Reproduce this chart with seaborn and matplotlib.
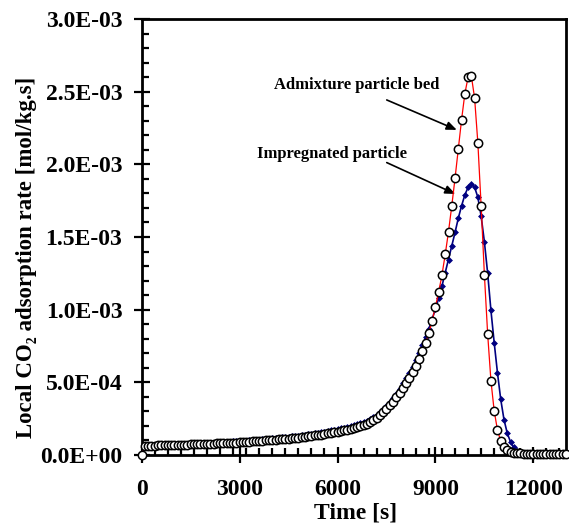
import numpy as np
import matplotlib
matplotlib.use("Agg")
import matplotlib.pyplot as plt
import seaborn as sns
from matplotlib.ticker import MultipleLocator, FuncFormatter

# Sampling times [s]
time_s = [
    0, 100, 200, 300, 400, 500, 600, 700, 800, 900,
    1000, 1100, 1200, 1300, 1400, 1500, 1600, 1700, 1800, 1900,
    2000, 2100, 2200, 2300, 2400, 2500, 2600, 2700, 2800, 2900,
    3000, 3100, 3200, 3300, 3400, 3500, 3600, 3700, 3800, 3900,
    4000, 4100, 4200, 4300, 4400, 4500, 4600, 4700, 4800, 4900,
    5000, 5100, 5200, 5300, 5400, 5500, 5600, 5700, 5800, 5900,
    6000, 6100, 6200, 6300, 6400, 6500, 6600, 6700, 6800, 6900,
    7000, 7100, 7200, 7300, 7400, 7500, 7600, 7700, 7800, 7900,
    8000, 8100, 8200, 8300, 8400, 8500, 8600, 8700, 8800, 8900,
    9000, 9100, 9200, 9300, 9400, 9500, 9600, 9700, 9800, 9900,
    10000, 10100, 10200, 10300, 10400, 10500, 10600, 10700, 10800, 10900,
    11000, 11100, 11200, 11300, 11400, 11500, 11600, 11700, 11800, 11900,
    12000, 12100, 12200, 12300, 12400, 12500, 12600, 12700, 12800, 12900,
    13000,
]

# Local CO2 adsorption rate, in 1e-3 mol/kg.s
admixture_e3 = [
    0.000, 0.064, 0.064, 0.065, 0.065, 0.066, 0.066, 0.067, 0.067, 0.068,
    0.069, 0.070, 0.071, 0.071, 0.072, 0.073, 0.074, 0.074, 0.075, 0.076,
    0.077, 0.078, 0.079, 0.080, 0.081, 0.082, 0.083, 0.084, 0.085, 0.086,
    0.088, 0.089, 0.090, 0.092, 0.093, 0.095, 0.096, 0.098, 0.100, 0.101,
    0.103, 0.105, 0.107, 0.109, 0.111, 0.113, 0.115, 0.118, 0.120, 0.123,
    0.126, 0.129, 0.132, 0.135, 0.138, 0.141, 0.145, 0.148, 0.152, 0.156,
    0.160, 0.164, 0.169, 0.174, 0.179, 0.185, 0.191, 0.198, 0.206, 0.215,
    0.227, 0.241, 0.257, 0.275, 0.295, 0.317, 0.341, 0.367, 0.396, 0.428,
    0.463, 0.495, 0.530, 0.568, 0.613, 0.660, 0.714, 0.770, 0.842, 0.924,
    1.021, 1.122, 1.239, 1.381, 1.537, 1.714, 1.904, 2.106, 2.306, 2.485,
    2.600, 2.608, 2.455, 2.145, 1.714, 1.239, 0.831, 0.511, 0.303, 0.172,
    0.096, 0.057, 0.036, 0.024, 0.017, 0.013, 0.011, 0.010, 0.009, 0.008,
    0.008, 0.007, 0.007, 0.007, 0.006, 0.006, 0.006, 0.006, 0.006, 0.006,
    0.006,
]

impregnated_e3 = [
    0.000, 0.066, 0.066, 0.067, 0.067, 0.068, 0.068, 0.069, 0.070, 0.071,
    0.072, 0.073, 0.074, 0.075, 0.076, 0.077, 0.078, 0.079, 0.081, 0.082,
    0.083, 0.084, 0.086, 0.087, 0.088, 0.089, 0.091, 0.092, 0.093, 0.095,
    0.096, 0.098, 0.099, 0.101, 0.103, 0.105, 0.106, 0.108, 0.110, 0.112,
    0.114, 0.116, 0.119, 0.121, 0.123, 0.126, 0.128, 0.131, 0.134, 0.137,
    0.140, 0.143, 0.146, 0.150, 0.153, 0.157, 0.161, 0.165, 0.169, 0.173,
    0.178, 0.183, 0.188, 0.193, 0.199, 0.205, 0.212, 0.219, 0.227, 0.236,
    0.247, 0.260, 0.275, 0.293, 0.314, 0.338, 0.364, 0.392, 0.423, 0.456,
    0.492, 0.527, 0.565, 0.606, 0.651, 0.700, 0.754, 0.810, 0.870, 0.936,
    1.004, 1.080, 1.163, 1.255, 1.345, 1.436, 1.531, 1.629, 1.714, 1.789,
    1.842, 1.865, 1.842, 1.773, 1.643, 1.466, 1.250, 0.995, 0.773, 0.566,
    0.383, 0.244, 0.150, 0.090, 0.052, 0.030, 0.018, 0.012, 0.009, 0.008,
    0.007, 0.007, 0.007, 0.006, 0.006, 0.006, 0.006, 0.006, 0.006, 0.006,
    0.006,
]

admixture = np.array(admixture_e3) * 1e-3
impregnated = np.array(impregnated_e3) * 1e-3

sns.set_theme(style="white")
plt.rcParams["font.family"] = ["Liberation Serif", "DejaVu Serif"]
plt.rcParams["font.weight"] = "bold"
plt.rcParams["axes.labelweight"] = "bold"
for key in ("text.color", "axes.labelcolor", "xtick.color", "ytick.color",
            "xtick.labelcolor", "ytick.labelcolor"):
    plt.rcParams[key] = "black"

W, H = 569, 526
fig = plt.figure(figsize=(W / 100, H / 100), dpi=100)
ax_l, ax_r, ax_t, ax_b = 141.7, 566.0, 19.0, 455.0
ax = fig.add_axes([ax_l / W, 1 - ax_b / H, (ax_r - ax_l) / W, (ax_b - ax_t) / H])

sns.lineplot(x=time_s, y=impregnated, ax=ax, sort=False, estimator=None,
             color="#000080", linewidth=1.2, marker="D", markersize=3.0,
             markerfacecolor="#000080", markeredgecolor="#000080",
             markeredgewidth=0.5, clip_on=False, zorder=3)
sns.lineplot(x=time_s, y=admixture, ax=ax, sort=False, estimator=None,
             color="#ff0000", linewidth=0.9, marker="o", markersize=6.0,
             markerfacecolor="white", markeredgecolor="black",
             markeredgewidth=1.1, clip_on=False, zorder=4)

ax.set_xlim(0, 13000)
ax.set_ylim(0, 3.0e-3)
ax.xaxis.set_major_locator(MultipleLocator(3000))
ax.xaxis.set_minor_locator(MultipleLocator(400))
ax.yaxis.set_major_locator(MultipleLocator(5e-4))
ax.yaxis.set_minor_locator(MultipleLocator(1e-4))
ax.yaxis.set_major_formatter(FuncFormatter(lambda v, p: f"{v:.1E}"))

for s in ax.spines.values():
    s.set_visible(True)
    s.set_color("black")
    s.set_linewidth(2.0)

ax.tick_params(which="major", direction="inout", length=12, width=1.6,
               color="black", labelcolor="black", labelsize=17, top=False,
               right=False, bottom=True, left=True)
ax.tick_params(which="minor", direction="in", length=5, width=1.6,
               color="black", top=False, right=False, bottom=True, left=True)
ax.tick_params(axis="x", which="major", pad=11)
ax.tick_params(axis="y", which="major", pad=8)

ax.set_xlabel("Time [s]", fontsize=17, fontweight="bold", color="black")
ax.xaxis.set_label_coords(0.503, -0.133)
ax.xaxis.label.set_va("center")
ax.set_ylabel("Local CO\u2082 adsorption rate [mol/kg.s]", fontsize=16.5,
              fontweight="bold", color="black")
ax.yaxis.set_label_coords(-0.272, 0.454)
ax.yaxis.label.set_va("center")
ax.yaxis.label.set_ha("center")

ax.text(6598, 2.546e-3, "Admixture particle bed", fontsize=12,
        fontweight="bold", ha="center", va="center", color="black")
ax.text(5823, 2.072e-3, "Impregnated particle", fontsize=12,
        fontweight="bold", ha="center", va="center", color="black")
arrow = dict(arrowstyle="-|>,head_length=0.6,head_width=0.25",
             color="black", lw=1.2, mutation_scale=10, shrinkA=0, shrinkB=0)
ax.annotate("", xy=(9654, 2.237e-3), xytext=(7508, 2.443e-3), arrowprops=arrow)
ax.annotate("", xy=(9611, 1.796e-3), xytext=(7508, 2.012e-3), arrowprops=arrow)

fig.savefig("out.png", dpi=100, facecolor="white")
